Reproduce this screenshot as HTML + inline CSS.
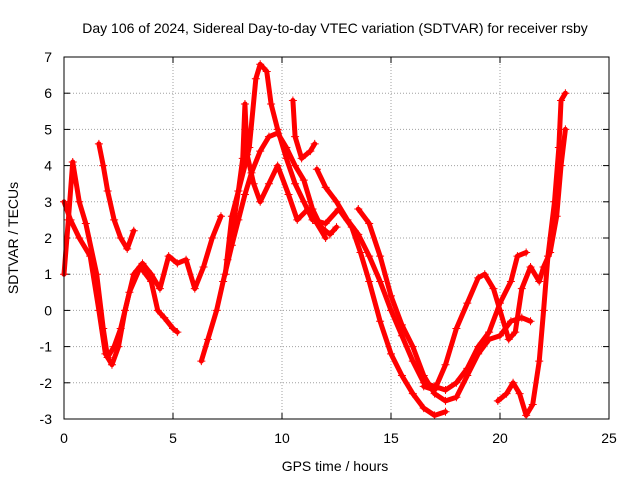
<!DOCTYPE html>
<html><head><meta charset="utf-8"><style>
body{margin:0;background:#fff;width:640px;height:480px;overflow:hidden}
svg text{font-family:"Liberation Sans",sans-serif;font-size:14px;fill:#000}
</style></head><body>
<svg id="chart" width="640" height="480" xmlns="http://www.w3.org/2000/svg">
<rect width="640" height="480" fill="#fff"/>
<text x="335" y="33" text-anchor="middle">Day 106 of 2024, Sidereal Day-to-day VTEC variation (SDTVAR) for receiver rsby</text>
<text x="335" y="471" text-anchor="middle">GPS time / hours</text>
<text transform="translate(18,238) rotate(-90)" text-anchor="middle">SDTVAR / TECUs</text>
<g id="grid"></g>
<g id="ticks"></g>
<g id="series"></g>
<rect x="64" y="57" width="545" height="362" fill="none" stroke="#000" stroke-width="1"/>
</svg>
<script>
const xTicks=[0,5,10,15,20,25];
const yTicks=[-3,-2,-1,0,1,2,3,4,5,6,7];
const s1x=[0,0.2,0.4,0.7,1,1.5,1.8,2,2.3,2.6,3,3.5,4,4.3,4.6,5,5.2];
const s1y=[1,2.5,4.1,3,2.4,1,-0.5,-1.3,-1,-0.5,0.5,1.2,0.8,0,-0.2,-0.5,-0.6];
const s2x=[0,0.3,0.7,1.2,1.6,1.9,2.2,2.5,2.8,3.2,3.6,4,4.4,4.8,5.2,5.6,6,6.4,6.8,7.2];
const s2y=[3,2.5,2,1.5,0,-1.2,-1.5,-1,0,1,1.3,1,0.6,1.5,1.3,1.4,0.6,1.2,2,2.6];
const s3x=[1.6,1.8,2,2.3,2.6,2.9,3.2];
const s3y=[4.6,4,3.3,2.5,2,1.7,2.2];
const s4x=[6.3,6.6,7,7.3,7.7,8,8.3,8.6,9,9.4,9.8,10.2,10.6,11,11.4,11.8,12.2,12.5];
const s4y=[-1.4,-0.8,0,0.8,1.8,2.5,3.2,3.8,4.4,4.8,4.9,4.5,4,3.6,2.8,2.3,2.1,2.3];
const s5x=[7.5,7.8,8,8.3,8.5,8.8,9,9.3,9.5,9.8,10.2,10.6,11,11.4,12,12.6,13.2,13.6,14,14.5,15,15.5,16,16.5,17,17.5];
const s5y=[1.4,2.5,3.3,4,4.5,6.4,6.8,6.6,5.7,5,4.2,3.5,3,2.5,2.4,2.8,2.3,1.6,0.8,-0.3,-1.2,-1.8,-2.3,-2.7,-2.9,-2.8];
const s6x=[7.4,7.7,8,8.2,8.3,8.4,8.7,9,9.4,9.8,10.3,10.7,11.2,11.6,12];
const s6y=[1,2.6,3.3,4.2,5.7,4.3,3.5,3,3.5,4,3.2,2.5,2.8,2.4,2];
const s7x=[10.5,10.6,10.9,11.3,11.5];
const s7y=[5.8,4.8,4.2,4.4,4.6];
const s8x=[11.6,12,12.5,13,13.5,14,14.5,15,15.5,16,16.5,17,17.5,18,18.5,19,19.5,20,20.5,20.8,21.2];
const s8y=[3.9,3.4,3,2.5,2.1,1.5,0.8,0,-0.7,-1.4,-2,-2.1,-2.2,-2,-1.6,-1,-0.6,0.2,0.8,1.5,1.6];
const s9x=[13.5,14,14.5,15,15.5,16,16.5,17,17.5,18,18.5,19,19.5,20,20.5,21,21.4];
const s9y=[2.8,2.4,1.5,0.4,-0.4,-1,-1.8,-2.3,-2.5,-2.4,-1.8,-1.2,-0.8,-0.7,-0.3,-0.2,-0.3];
const s10x=[16.5,17,17.5,18,18.5,19,19.3,19.7,20,20.4,20.7,21,21.4,21.8,22,22.3,22.6,22.8,23];
const s10y=[-2.1,-2.2,-1.5,-0.5,0.2,0.9,1,0.6,0,-0.8,-0.6,0.6,1.2,0.8,1.2,1.6,2.6,4,5];
const s11x=[19.9,20.3,20.6,20.9,21.2,21.5,21.8,22,22.2,22.5,22.7,22.8,23];
const s11y=[-2.5,-2.3,-2,-2.3,-2.9,-2.6,-1.4,0,1.5,3,4.5,5.8,6];
const series=[[s1x,s1y],[s2x,s2y],[s3x,s3y],[s4x,s4y],[s5x,s5y],[s6x,s6y],[s7x,s7y],[s8x,s8y],[s9x,s9y],[s10x,s10y],[s11x,s11y]];
const X0=64,X1=609,Y0=419,Y1=57;
const xs=v=>X0+(v-0)/(25-0)*(X1-X0);
const ys=v=>Y0-(v+3)/10*(Y0-Y1);
const NS="http://www.w3.org/2000/svg";
const grid=document.getElementById('grid'),ticks=document.getElementById('ticks'),sg=document.getElementById('series');
function mk(t,a,p){const e=document.createElementNS(NS,t);for(const k in a)e.setAttribute(k,a[k]);p.appendChild(e);return e;}
xTicks.forEach(v=>{const x=xs(v);
 const g=mk('line',{x1:x,x2:x,y1:Y0,y2:Y1,stroke:'#a0a0a0','stroke-dasharray':'1,2'},grid);
 
 
 mk('line',{x1:x,x2:x,y1:Y0,y2:Y0-6,stroke:'#000'},ticks);
 mk('line',{x1:x,x2:x,y1:Y1,y2:Y1+6,stroke:'#000'},ticks);
 const t=mk('text',{x:x,y:443,'text-anchor':'middle'},ticks);t.textContent=v;
 
 });
yTicks.forEach(v=>{const y=ys(v);
 const g=mk('line',{x1:X0,x2:X1,y1:y,y2:y,stroke:'#a0a0a0','stroke-dasharray':'1,2'},grid);
 
 
 mk('line',{x1:X0,x2:X0+6,y1:y,y2:y,stroke:'#000'},ticks);
 mk('line',{x1:X1,x2:X1-6,y1:y,y2:y,stroke:'#000'},ticks);
 const t=mk('text',{x:52,y:y+5,'text-anchor':'end'},ticks);t.textContent=v;
 
 });
series.forEach((s,i)=>{const [ax,ay]=s;
 const pts=ax.map((v,j)=>xs(v)+','+ys(ay[j])).join(' ');
 const pl=mk('polyline',{points:pts,fill:'none',stroke:'#ff0000','stroke-width':5,'stroke-linejoin':'round','stroke-linecap':'round'},sg);
 
 
 ax.forEach((v,j)=>{const x=xs(v),y=ys(ay[j]);
  const p=mk('path',{d:`M${x-4},${y}H${x+4}M${x},${y-4}V${y+4}`,stroke:'#ff0000','stroke-width':1},sg);
  
  });
});
</script>
</body></html>
